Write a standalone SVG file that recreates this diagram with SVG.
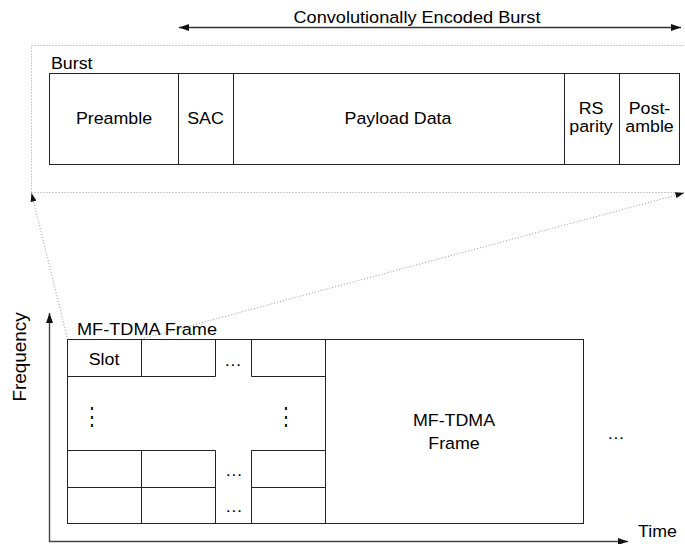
<svg xmlns="http://www.w3.org/2000/svg" width="685" height="544" viewBox="0 0 685 544">
<style>
  text { font-family: "Liberation Sans", Arial, sans-serif; font-size: 16.5px; fill: #000; }
  .c { text-anchor: middle; }
  .box { fill: #fff; stroke: #222; stroke-width: 1; }
  .ln { fill: none; stroke: #222; stroke-width: 1; }
  .axis { fill: none; stroke: #444; stroke-width: 1.4; }
  .dot { fill: none; stroke: #999; stroke-width: 1; stroke-dasharray: 1 2; }
  .vd { font-size: 18px; }
</style>
<defs>
  <marker id="ah" viewBox="0 0 10 7" refX="10" refY="3.5" markerWidth="10" markerHeight="7" markerUnits="userSpaceOnUse" orient="auto-start-reverse">
    <path d="M0,0 L10,3.5 L0,7 z" fill="#111"/>
  </marker>
  <marker id="ahs" viewBox="0 0 10 7" refX="10" refY="3.5" markerWidth="9" markerHeight="6" markerUnits="userSpaceOnUse" orient="auto">
    <path d="M0,0 L10,3.5 L0,7 z" fill="#111"/>
  </marker>
</defs>

<g id="connectors">
  <line x1="179" y1="27.5" x2="681" y2="27.5" stroke="#333" stroke-width="1.3" marker-start="url(#ah)" marker-end="url(#ah)"/>
  <path class="dot" d="M31.5,192.5 V45.5 H690"/>
  <line class="dot" x1="31.5" y1="192.5" x2="686" y2="192.5"/>
  <line class="dot" x1="67" y1="337" x2="31.5" y2="193" marker-end="url(#ahs)"/>
  <line class="dot" x1="141" y1="339" x2="684" y2="193" marker-end="url(#ahs)"/>
  <line class="axis" x1="49.5" y1="542" x2="49.5" y2="313" marker-end="url(#ah)"/>
  <line class="axis" x1="49" y1="541.5" x2="628" y2="541.5" marker-end="url(#ah)"/>
</g>

<g id="title">
  <text class="c" transform="translate(417,23) scale(1.1,1)">Convolutionally Encoded Burst</text>
</g>

<g id="burst">
  <text transform="translate(51,69) scale(1.08,1)">Burst</text>
  <rect class="box" x="49.5" y="73.5" width="630" height="91"/>
  <g id="preamble"><text class="c" transform="translate(114,124) scale(1.08,1)">Preamble</text></g>
  <g id="sac"><line class="ln" x1="178.5" y1="73.5" x2="178.5" y2="164.5"/><text class="c" transform="translate(205.5,124) scale(1.08,1)">SAC</text></g>
  <g id="payload"><line class="ln" x1="233.5" y1="73.5" x2="233.5" y2="164.5"/><text class="c" transform="translate(398,124) scale(1.08,1)">Payload Data</text></g>
  <g id="rs"><line class="ln" x1="564.5" y1="73.5" x2="564.5" y2="164.5"/><text class="c" transform="translate(591,114) scale(1.08,1)">RS</text><text class="c" transform="translate(591,132) scale(1.08,1)">parity</text></g>
  <g id="postamble"><line class="ln" x1="619.5" y1="73.5" x2="619.5" y2="164.5"/><text class="c" transform="translate(649.5,114) scale(1.08,1)">Post-</text><text class="c" transform="translate(649.5,132) scale(1.08,1)">amble</text></g>
</g>

<g id="frame">
  <text transform="translate(77,335) scale(1.1,1)">MF-TDMA Frame</text>
  <rect class="box" x="67.5" y="339.5" width="516" height="184"/>
  <line class="ln" x1="325.5" y1="339.5" x2="325.5" y2="523.5"/>
  <g id="slots">
    <path class="ln" d="M67.5,376.5 H215.5 M251.5,376.5 H325.5 M141.5,339.5 V376.5 M215.5,339.5 V376.5 M251.5,339.5 V376.5"/>
    <path class="ln" d="M67.5,450.5 H215.5 M251.5,450.5 H325.5 M67.5,487.5 H215.5 M251.5,487.5 H325.5 M141.5,450.5 V523.5 M215.5,450.5 V523.5 M251.5,450.5 V523.5"/>
    <text class="c" transform="translate(104,365) scale(1.08,1)">Slot</text>
    <text class="c" transform="translate(233,366) scale(1.08,1)">…</text>
    <text class="c vd" transform="translate(92,425) scale(1,1.4)">⋮</text>
    <text class="c vd" transform="translate(286,425) scale(1,1.4)">⋮</text>
    <text class="c" transform="translate(234,476) scale(1.08,1)">…</text>
    <text class="c" transform="translate(234,512) scale(1.08,1)">…</text>
  </g>
  <g id="frame2">
    <text class="c" transform="translate(454,426) scale(1.08,1)">MF-TDMA</text>
    <text class="c" transform="translate(454,449) scale(1.08,1)">Frame</text>
  </g>
  <text class="c" transform="translate(616,439) scale(1.08,1)">…</text>
</g>

<g id="axes-labels">
  <text class="c" style="font-size:17.5px" transform="translate(26,357) rotate(-90) scale(1.08,1)">Frequency</text>
  <text transform="translate(638,537) scale(1.08,1)">Time</text>
</g>
</svg>
